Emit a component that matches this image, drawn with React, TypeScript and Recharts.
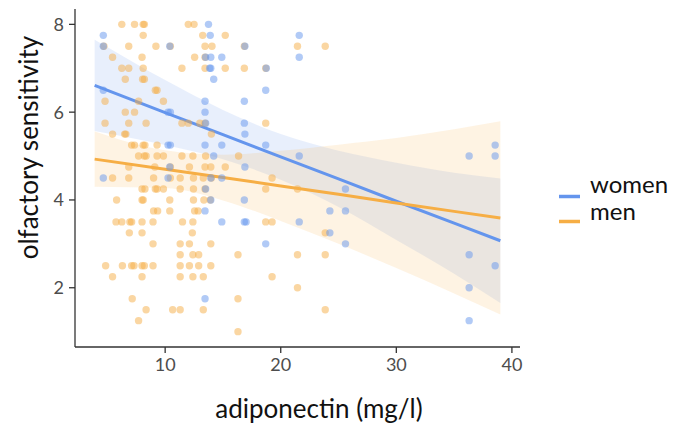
import React from "react";
import { ComposedChart, Scatter, Area, Line, XAxis, YAxis } from "recharts";

const WOMEN_COLOR = "#6495ED";
const MEN_COLOR = "#F6AE45";
const FONT = "Lato, 'Open Sans', sans-serif";

// [adiponectin (mg/l), olfactory sensitivity]
const womenPoints: [number, number][] = [
  [13.75, 8], [4.65, 7.75], [13.9, 7.75], [21.6, 7.75],
  [4.65, 7.5], [10.4, 7.5], [16.9, 7.5],
  [13.5, 7.25], [13.95, 7.25], [14.9, 7.25], [21.6, 7.25],
  [13.85, 7], [13.95, 7], [18.75, 7], [14.2, 6.75], [18.7, 6.5], [4.65, 6.5],
  [13.45, 6.25], [16.85, 6.25], [10.25, 6], [10.45, 6], [13.45, 6],
  [13.5, 5.75], [16.85, 5.75], [16.9, 5.5],
  [10.25, 5.25], [10.45, 5.25], [13.45, 5.25], [14.9, 5.25], [18.7, 5.25], [38.55, 5.25],
  [14.2, 5], [21.6, 5], [36.3, 5], [38.55, 5],
  [10.4, 4.75], [16.9, 4.75],
  [4.65, 4.5], [10.25, 4.5], [13.95, 4.5], [14.9, 4.5],
  [13.5, 4.25], [25.6, 4.25], [13.95, 4], [16.85, 4],
  [13.45, 3.75], [24.25, 3.75], [25.6, 3.75],
  [14.9, 3.5], [16.85, 3.5], [17.0, 3.5], [21.6, 3.5],
  [24.25, 3.25], [18.7, 3], [25.6, 3], [36.3, 2.75], [38.55, 2.5],
  [36.3, 2], [13.45, 1.75], [36.3, 1.25],
];

const menPoints: [number, number][] = [
  [6.25, 8], [7.35, 8], [8.1, 8], [8.2, 8], [12.0, 8], [12.5, 8],
  [8.1, 7.75], [13.25, 7.75], [15.2, 7.75],
  [4.7, 7.5], [6.85, 7.5], [9.2, 7.5], [10.45, 7.5], [13.45, 7.5], [14.05, 7.5], [16.85, 7.5], [21.45, 7.5], [23.85, 7.5],
  [5.45, 7.25], [8.0, 7.25], [12.55, 7.25], [13.45, 7.25],
  [6.25, 7], [6.85, 7], [8.1, 7], [11.45, 7], [13.45, 7], [15.2, 7], [16.85, 7], [18.7, 7],
  [6.55, 6.75], [8.05, 6.75], [8.2, 6.75], [9.15, 6.5], [9.3, 6.5],
  [4.8, 6.25], [7.7, 6.25], [9.85, 6.25], [6.55, 6], [7.35, 6],
  [4.8, 5.75], [6.85, 5.75], [8.35, 5.75], [11.45, 5.75], [12.0, 5.75], [13.0, 5.75], [13.45, 5.75], [18.7, 5.75],
  [5.45, 5.5], [6.5, 5.5], [6.6, 5.5], [14.0, 5.5],
  [7.1, 5.25], [7.35, 5.25], [8.1, 5.25], [8.25, 5.25], [9.3, 5.25],
  [7.7, 5], [8.2, 5], [8.35, 5], [9.3, 5], [9.85, 5], [11.45, 5], [12.4, 5], [13.5, 5], [16.35, 5],
  [6.85, 4.75], [9.1, 4.75], [10.45, 4.75], [12.1, 4.75], [13.45, 4.75], [13.95, 4.75], [15.2, 4.75],
  [5.45, 4.5], [6.85, 4.5], [9.0, 4.5], [10.45, 4.5], [11.3, 4.5], [12.45, 4.5], [13.3, 4.5], [14.0, 4.5], [19.25, 4.5],
  [8.0, 4.25], [8.25, 4.25], [9.15, 4.25], [9.3, 4.25], [9.85, 4.25], [11.3, 4.25], [12.45, 4.25], [13.45, 4.25], [18.7, 4.25], [21.45, 4.25],
  [5.8, 4], [8.0, 4], [8.1, 4], [10.4, 4], [12.45, 4], [13.35, 4], [13.9, 4],
  [9.0, 3.75], [9.35, 3.75], [10.4, 3.75], [12.55, 3.75], [12.85, 3.75],
  [5.75, 3.5], [6.25, 3.5], [6.95, 3.5], [7.1, 3.5], [8.0, 3.5], [8.95, 3.5], [11.5, 3.5], [12.4, 3.5], [18.7, 3.5], [19.25, 3.5],
  [6.9, 3.25], [8.0, 3.25], [12.35, 3.25], [23.85, 3.25],
  [8.95, 3], [11.3, 3], [12.1, 3], [13.95, 3],
  [11.3, 2.75], [12.4, 2.75], [12.9, 2.75], [16.3, 2.75], [21.45, 2.75], [23.85, 2.75],
  [4.85, 2.5], [6.3, 2.5], [7.1, 2.5], [7.3, 2.5], [8.0, 2.5], [8.2, 2.5], [8.95, 2.5], [11.3, 2.5], [12.1, 2.5], [12.9, 2.5], [13.95, 2.5],
  [5.45, 2.25], [8.0, 2.25], [11.3, 2.25], [12.4, 2.25], [13.3, 2.25], [19.25, 2.25],
  [21.45, 2], [7.15, 1.75], [16.3, 1.75],
  [8.35, 1.5], [10.65, 1.5], [11.3, 1.5], [13.3, 1.5], [23.85, 1.5],
  [7.7, 1.25], [16.3, 1],
];

// fitted lines and their confidence bands, read at these x positions
const fitX = [3.9, 10, 15, 20, 25, 30, 35, 39];
const womenFit = [6.61, 5.99, 5.49, 4.98, 4.48, 3.97, 3.47, 3.07];
const womenLow = [5.57, 5.25, 4.93, 4.46, 3.84, 3.09, 2.32, 1.65];
const womenHigh = [7.65, 6.73, 6.05, 5.5, 5.12, 4.85, 4.62, 4.49];
const menFit = [4.93, 4.7, 4.51, 4.32, 4.13, 3.93, 3.74, 3.59];
const menLow = [4.3, 4.27, 3.99, 3.52, 3.0, 2.45, 1.87, 1.39];
const menHigh = [5.56, 5.13, 5.03, 5.12, 5.26, 5.41, 5.61, 5.79];

const xTicks = [10, 20, 30, 40];
const yTicks = [2, 4, 6, 8];
const groups = [
  { name: "women", color: WOMEN_COLOR },
  { name: "men", color: MEN_COLOR },
];

const fitData = fitX.map((x, i) => ({
  x,
  w: womenFit[i],
  m: menFit[i],
  wBand: [womenLow[i], womenHigh[i]],
  mBand: [menLow[i], menHigh[i]],
}));
const womenData = womenPoints.map(([x, y]) => ({ x, y }));
const menData = menPoints.map(([x, y]) => ({ x, y }));

const dot = (color: string) => (props: any) => (
  <circle cx={props.cx} cy={props.cy} r={3.7} fill={color} fillOpacity={0.5} />
);

export default function App() {
  const tick = { fontSize: 18, fill: "#4d4d4d", fontFamily: FONT };
  const axisStroke = { stroke: "#333", strokeWidth: 1.3 };
  return (
    <div style={{ position: "absolute", left: 0, top: 0, width: 688, height: 425, background: "#fff" }}>
      <ComposedChart
        width={688}
        height={425}
        data={fitData}
        margin={{ top: 9, right: 168, bottom: 0, left: 0 }}
      >
        <XAxis
          type="number"
          dataKey="x"
          domain={[2.2, 40.7]}
          ticks={xTicks}
          allowDataOverflow
          height={78}
          tickSize={6}
          tickMargin={5}
          tick={tick}
          axisLine={axisStroke}
          tickLine={axisStroke}
        />
        <YAxis
          type="number"
          domain={[0.65, 8.35]}
          ticks={yTicks}
          allowDataOverflow
          width={75}
          tickSize={6}
          tickMargin={5}
          tick={tick}
          axisLine={axisStroke}
          tickLine={axisStroke}
        />
        <Scatter data={menData} dataKey="y" shape={dot(MEN_COLOR)} isAnimationActive={false} />
        <Scatter data={womenData} dataKey="y" shape={dot(WOMEN_COLOR)} isAnimationActive={false} />
        <Area type="monotone" dataKey="wBand" stroke="none" fill={WOMEN_COLOR} fillOpacity={0.15} isAnimationActive={false} />
        <Area type="monotone" dataKey="mBand" stroke="none" fill={MEN_COLOR} fillOpacity={0.15} isAnimationActive={false} />
        <Line type="linear" dataKey="w" stroke={WOMEN_COLOR} strokeWidth={3} dot={false} isAnimationActive={false} />
        <Line type="linear" dataKey="m" stroke={MEN_COLOR} strokeWidth={3} dot={false} isAnimationActive={false} />
      </ComposedChart>
      {/* axis titles and legend */}
      <svg
        width={688}
        height={425}
        style={{ position: "absolute", left: 0, top: 0, pointerEvents: "none" }}
        fontFamily={FONT}
        fill="#111"
      >
        <text x={319} y={418} fontSize={26} textAnchor="middle">
          adiponectin (mg/l)
        </text>
        <text transform="translate(38,147.5) rotate(-90)" fontSize={26} textAnchor="middle">
          olfactory sensitivity
        </text>
        {groups.map((g, i) => (
          <g key={g.name}>
            <line x1={559} x2={580} y1={196.5 + i * 25} y2={196.5 + i * 25} stroke={g.color} strokeWidth={3.5} />
            <text x={590} y={193 + i * 27} fontSize={24}>
              {g.name}
            </text>
          </g>
        ))}
      </svg>
    </div>
  );
}
